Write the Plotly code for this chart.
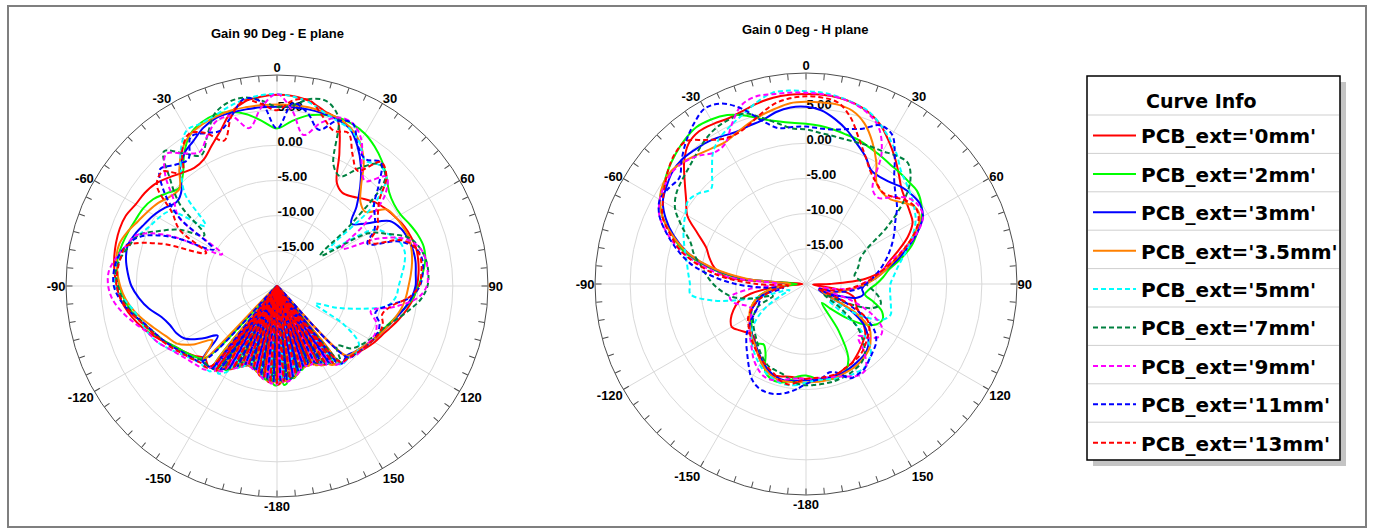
import plotly.graph_objects as go

W, H = 1373, 529

# ---------------- data ----------------
CURVE_NAMES = ["PCB_ext='0mm'", "PCB_ext='2mm'", "PCB_ext='3mm'", "PCB_ext='3.5mm'",
               "PCB_ext='5mm'", "PCB_ext='7mm'", "PCB_ext='9mm'", "PCB_ext='11mm'",
               "PCB_ext='13mm'"]
CURVE_COLORS = ["#FF0000", "#00FF00", "#0000FF", "#FF8000",
                "#00FFFF", "#008040", "#FF00FF", "#0000FF", "#FF0000"]
CURVE_DASH = ["solid", "solid", "solid", "solid",
              "5px,3px", "5px,3px", "5px,3px", "5px,3px", "5px,3px"]

# E plane (phi = 90 deg): angle grid in degrees
THETA_E = [-178, -176, -174, -172, -170, -168, -166, -164, -162, -160,
           -158, -156, -154, -152, -150, -148, -146, -144, -142, -140,
           -135, -130, -125, -120, -115, -110, -105, -100, -95, -90,
           -85, -80, -75, -70, -65, -60, -55, -50, -45, -40,
           -35, -30, -25, -20, -15, -10, -5, 0, 5, 10,
           15, 20, 25, 30, 35, 40, 45, 50, 55, 60,
           65, 70, 75, 80, 85, 90, 95, 100, 105, 110,
           115, 120, 125, 130, 135,
           140, 142, 144, 146, 148, 150, 152, 154, 156, 158,
           160, 162, 164, 166, 168, 170, 172, 174, 176, 178, 180]

E_GAIN_0MM = [-20, -6.3, -6.5, -20, -7.0, -7.3, -20, -7.8, -8.0, -20, -7.8, -7.5, -20, -6.8, -6.4, -20, -5.6, -5.2, -20, -5.0,
              -5.5, -4.6, -3.8, -3.0, -1.8, -0.6, 0.5, 1.5, 2.3, 2.8,
              3.2, 3.5, 3.7, 3.8, 3.7, 3.2, 3.0, 2.6, 1.8, 1.0,
              0.5, 0.8, 2.0, 3.5, 5.5, 6.6, 7.0, 7.2, 7.1, 6.7,
              5.8, 5.1, 1.0, -3.0, -3.8, -3.4, -2.5, -1.6, -1.0, -0.5,
              0.0, 0.3, 0.5, 0.4, 0.2, -0.1, -0.5, -1.2, -2.0, -2.8,
              -3.5, -4.0, -4.6, -5.2, -5.8,
              -20, -6.0, -6.3, -20, -6.9, -7.2, -20, -7.7, -7.9, -20, -8.0, -7.9, -20, -7.4, -7.1, -20, -6.6, -6.4, -20, -6.2, -6.0]
E_GAIN_2MM = [-6.0, -20, -6.6, -6.8, -20, -7.4, -7.7, -20, -8.1, -8.0, -20, -7.6, -7.2, -20, -6.3, -6.0, -20, -5.4, -5.2, -20,
              -5.5, -4.5, -3.8, -3.0, -2.0, -1.0, 0.0, 1.0, 1.8, 2.4,
              2.8, 3.0, 2.8, 2.5, 2.2, 2.0, 1.5, 0.5, -0.3, 0.8,
              3.0, 4.8, 5.6, 5.9, 5.6, 4.8, 3.5, 2.4, 3.5, 4.6,
              5.2, 5.5, 5.4, 5.0, 4.2, 3.2, 2.0, 0.8, 0.3, 0.3,
              0.8, 1.3, 1.6, 1.4, 0.8, 0.1, -0.6, -1.6, -2.6, -3.4,
              -4.0, -4.4, -4.8, -5.2, -5.6,
              -5.8, -20, -6.5, -6.8, -20, -7.4, -7.6, -20, -8.0, -8.2, -20, -7.8, -7.6, -20, -7.0, -6.7, -20, -6.2, -5.9, -20, -5.9]
E_GAIN_3MM = [-6.4, -6.5, -20, -6.9, -7.1, -20, -7.7, -7.9, -20, -8.1, -7.9, -20, -7.3, -7.0, -20, -6.2, -5.8, -20, -5.2, -5.0,
              -5.0, -9.0, -7.0, -5.0, -4.2, -3.8, -3.0, -1.5, -0.3, 0.7,
              1.3, 1.8, 2.0, 1.5, 0.8, 0.2, -0.6, -1.4, -0.8, 1.5,
              3.0, 3.8, 4.8, 5.4, 5.5, 5.5, 5.5, 5.5, 5.5, 5.5,
              5.4, 5.2, 4.6, 2.9, 0.8, -1.6, -4.0, -6.2, -4.5, -1.5,
              -0.6, -0.2, 0.0, 0.0, -0.2, -0.3, -0.8, -1.6, -2.5, -3.2,
              -3.8, -4.4, -5.0, -5.5, -6.0,
              -5.6, -6.2, -20, -6.8, -7.0, -20, -7.6, -7.9, -20, -8.1, -8.0, -20, -7.8, -7.5, -20, -6.9, -6.7, -20, -6.5, -6.4, -20]
E_GAIN_3P5MM = [-6.3, -6.4, -6.6, -20, -7.1, -7.4, -7.6, -20, -7.9, -8.0, -7.8, -20, -7.1, -6.8, -6.5, -20, -5.8, -5.4, -5.2, -20,
                -5.2, -8.0, -5.5, -3.6, -2.8, -1.8, -0.6, 0.6, 1.6, 2.3,
                2.8, 3.2, 3.2, 2.6, 1.8, 1.2, 0.6, -0.2, -0.4, 1.6,
                3.6, 4.8, 5.3, 5.6, 5.8, 5.8, 5.8, 5.8, 5.8, 5.8,
                5.6, 5.4, 4.8, 3.6, 1.5, -1.4, -3.2, -3.6, -1.0, -0.5,
                -0.2, 0.0, -0.2, -0.5, -0.9, -1.3, -1.6, -2.0, -2.6, -3.2,
                -3.8, -4.4, -5.0, -5.5, -6.0,
                -20, -6.1, -6.2, -6.5, -20, -7.0, -7.3, -7.5, -20, -7.8, -7.9, -7.8, -20, -7.3, -7.0, -6.8, -20, -6.5, -6.4, -6.3, -20]
E_GAIN_5MM = [-6.6, -20, -6.8, -7.0, -7.3, -20, -7.9, -8.2, -8.4, -20, -7.8, -7.4, -7.0, -20, -6.0, -5.4, -5.0, -20, -4.6, -4.5,
              -4.5, -4.0, -3.2, -2.2, -1.2, -0.5, 0.0, 0.6, 1.8, 3.0,
              3.0, 2.8, 2.0, 1.0, 0.0, -0.6, -1.5, -6.7, -1.5, 1.2,
              3.8, 5.6, 5.5, 5.8, 6.4, 6.9, 7.2, 7.3, 7.0, 6.5,
              5.6, 5.0, 4.6, 3.5, 1.8, 2.5, 2.0, -2.0, -10.9, -4.0,
              -2.5, -1.5, -1.2, -1.6, -2.2, -2.7, -3.0, -4.0, -7.5, -11.0,
              -14.0, -9.0, -5.8, -5.2, -5.6,
              -5.5, -6.0, -20, -6.8, -7.2, -7.5, -20, -8.0, -8.3, -8.4, -20, -8.2, -8.0, -7.7, -20, -7.1, -6.9, -6.8, -20, -6.6, -6.5]
E_GAIN_7MM = [-20, -6.5, -6.7, -6.9, -20, -7.5, -7.8, -8.0, -20, -8.2, -8.0, -7.7, -20, -6.9, -6.5, -6.1, -20, -5.4, -5.1, -5.0,
              -5.0, -4.2, -3.5, -2.8, -2.0, -1.2, -0.2, 1.0, 2.0, 2.6,
              3.0, 2.6, 1.8, 1.0, -1.5, -4.0, -7.4, -2.0, 1.5, 5.0,
              3.0, 1.5, 3.5, 6.0, 7.0, 7.2, 6.5, 5.5, 5.8, 7.0,
              7.2, 5.5, -1.0, -2.0, 0.5, 2.6, 1.8, -6.0, -12.5, -5.0,
              -2.5, 0.0, 1.0, 1.5, 1.6, 1.4, 0.6, -0.8, -2.2, -3.4,
              -4.2, -4.8, -5.4, -6.2, -8.0,
              -6.0, -20, -6.6, -6.9, -7.2, -20, -7.7, -7.9, -8.1, -20, -8.2, -8.0, -7.8, -20, -7.2, -6.9, -6.7, -20, -6.5, -6.4, -6.3]
E_GAIN_9MM = [-6.1, -6.2, -20, -6.6, -6.9, -7.2, -20, -7.7, -7.9, -7.9, -20, -7.4, -7.1, -6.7, -20, -5.8, -5.4, -5.0, -20, -4.5,
              -4.0, -3.6, -3.0, -2.2, -1.2, -0.5, 0.8, 2.2, 3.4, 4.0,
              4.0, 3.2, 2.2, 1.2, -3.0, -11.0, -3.0, -0.8, 2.5, 4.5,
              3.0, 2.0, 3.5, 5.0, 5.0, 2.8, 5.5, 7.3, 5.0, 1.8,
              4.0, 5.5, 5.5, 4.0, 1.0, -0.5, 2.0, 0.0, -5.0, -9.4,
              -4.0, -0.5, 1.0, 1.5, 1.5, 1.3, 0.0, -3.0, -6.2, -5.0,
              -4.5, -4.6, -4.8, -5.0, -5.5,
              -5.7, -5.9, -6.2, -20, -6.8, -7.1, -7.4, -20, -7.8, -7.9, -7.9, -20, -7.6, -7.3, -7.0, -20, -6.5, -6.3, -6.2, -20, -6.0]
E_GAIN_11MM = [-6.3, -20, -6.6, -20, -7.1, -20, -7.7, -20, -8.1, -20, -7.9, -20, -7.2, -20, -6.4, -20, -5.6, -20, -5.0, -20,
               -4.8, -4.2, -3.6, -2.8, -2.0, -1.2, -0.2, 1.2, 2.4, 3.2,
               3.3, 3.0, 2.2, 0.6, -3.5, -9.6, -3.0, 1.0, 3.5, 2.5,
               2.0, 4.5, 4.0, 3.5, 5.0, 7.0, 6.3, 2.4, 6.1, 5.0,
               3.0, 5.0, 5.5, 3.0, 2.0, 3.0, 0.5, -2.0, -3.0, -4.0,
               -5.8, -1.5, 0.5, 1.0, 0.8, 0.3, -1.0, -4.0, -5.5, -4.5,
               -4.2, -4.4, -4.8, -5.2, -5.6,
               -20, -6.2, -20, -6.8, -20, -7.3, -20, -7.8, -20, -8.1, -20, -8.0, -20, -7.5, -20, -6.9, -20, -6.5, -20, -6.3, -20]
E_GAIN_13MM = [-20, -6.4, -20, -6.9, -20, -7.4, -20, -7.9, -20, -8.1, -20, -7.6, -20, -6.9, -20, -6.1, -20, -5.3, -20, -4.8,
               -4.6, -4.0, -3.4, -2.6, -1.8, -1.0, 0.0, 1.2, 2.2, 2.8,
               2.8, 2.6, 2.1, -2.4, -8.9, -4.0, -1.8, 2.3, 3.0, 1.0,
               3.5, 5.0, 4.0, 2.0, 5.0, 6.8, 6.0, 5.0, 6.5, 6.8,
               5.0, 3.5, 4.0, 1.5, 0.0, 3.0, 2.0, -1.0, -2.5, -3.5,
               -5.5, -1.0, 0.5, 0.8, 0.6, 0.2, -1.2, -3.5, -4.5, -4.0,
               -4.0, -4.4, -4.8, -5.2, -5.6,
               -5.9, -20, -6.4, -20, -7.0, -20, -7.6, -20, -8.0, -20, -8.1, -20, -7.8, -20, -7.2, -20, -6.7, -20, -6.4, -20, -6.1]

# H plane (phi = 0 deg)
THETA_H = [-180, -175, -170, -165, -160, -155, -150, -145, -140, -135,
           -130, -125, -120, -115, -110, -105, -100, -95, -90, -85,
           -80, -75, -70, -65, -60, -55, -50, -45, -40, -35,
           -30, -25, -20, -15, -10, -5, 0, 5, 10, 15,
           20, 25, 30, 35, 40, 45, 50, 55, 60, 65,
           70, 75, 80, 85, 90, 95, 100, 105, 110, 115,
           120, 125, 130, 135, 140, 145, 150, 155, 160, 165, 170, 175]

H_GAIN_0MM = [-6.5, -6.6, -6.6, -6.4, -6.2, -6.5, -7.2, -8.0, -8.8, -9.5,
              -9.2, -8.5, -7.8, -8.2, -9.0, -10.0, -12.0, -16.0, -19.5, -8.7,
              -6.8, -5.8, -4.9, -3.0, -0.5, 0.8, 2.5, 4.5, 6.0, 6.5,
              6.3, 6.0, 6.2, 6.6, 6.9, 7.0, 7.0, 7.0, 6.9, 6.6,
              6.0, 5.0, 3.5, 2.0, 0.5, -0.8, -1.5, -2.0, -2.5, -4.0,
              -6.0, -7.8, -9.0, -11.5, -16.6, -19.0, -15.0, -13.0, -12.5, -12.0,
              -11.0, -10.0, -9.0, -8.5, -8.0, -7.5, -7.0, -6.8, -6.5, -6.3, -6.3, -6.4]
H_GAIN_2MM = [-7.0, -6.8, -6.0, -5.5, -5.6, -6.3, -8.5, -9.5, -9.0, -9.2,
              -10.0, -10.5, -11.0, -11.5, -12.0, -13.0, -14.5, -17.0, -18.7, -10.6,
              -5.7, -2.0, 0.2, 2.5, 4.0, 4.7, 5.5, 6.2, 6.8, 7.2,
              7.0, 6.5, 5.5, 4.3, 3.5, 3.0, 2.8, 2.6, 2.3, 2.0,
              1.8, 1.4, 1.1, 0.8, 0.7, 0.6, 0.6, 0.0, -1.0, -2.5,
              -4.0, -6.0, -8.0, -9.0, -10.0, -11.0, -11.5, -10.0, -8.5, -8.0,
              -8.5, -10.0, -12.5, -15.0, -16.5, -12.0, -8.0, -6.5, -6.0, -6.0, -6.2, -6.6]
H_GAIN_3MM = [-6.3, -6.2, -6.0, -6.0, -6.3, -6.8, -7.5, -8.2, -8.8, -9.3,
              -9.8, -10.3, -10.8, -11.5, -12.5, -13.5, -15.0, -17.0, -17.5, -11.0,
              -6.0, -2.5, 0.0, 2.0, 3.5, 4.2, 4.8, 5.0, 4.8, 4.6,
              4.2, 3.8, 3.9, 4.1, 4.8, 5.2, 5.2, 4.8, 3.8, 2.6,
              1.2, 0.0, -1.4, -1.5, -1.2, -0.6, -0.3, -0.2, -0.8, -2.5,
              -4.5, -6.5, -8.5, -10.0, -11.5, -12.0, -11.7, -12.5, -15.0, -18.0,
              -13.0, -10.0, -8.5, -7.5, -7.0, -6.8, -6.6, -6.4, -6.3, -6.3, -6.3, -6.3]
H_GAIN_3P5MM = [-6.0, -6.0, -5.9, -5.8, -6.0, -6.5, -7.2, -8.0, -8.7, -9.2,
                -9.7, -10.2, -10.7, -11.2, -12.0, -13.0, -14.5, -16.5, -17.8, -11.5,
                -6.3, -2.5, 0.2, 2.5, 4.0, 4.8, 5.0, 4.6, 4.0, 3.5,
                3.2, 3.6, 4.2, 4.8, 5.3, 5.8, 5.9, 5.9, 5.9, 5.5,
                4.3, 2.3, 0.0, -2.5, -3.1, -3.0, -2.0, -1.0, -1.3, -3.0,
                -5.0, -7.0, -8.5, -10.0, -11.5, -13.0, -14.5, -15.5, -16.5, -17.5,
                -12.0, -9.0, -8.0, -7.2, -6.8, -6.5, -6.3, -6.2, -6.1, -6.0, -6.0, -6.0]
H_GAIN_5MM = [-6.0, -5.6, -5.4, -5.5, -5.8, -6.2, -6.8, -7.5, -8.2, -9.0,
              -10.0, -11.5, -13.5, -16.0, -17.5, -12.0, -6.5, -3.5, -3.5, -3.2,
              -2.8, -2.2, -1.5, -0.8, -0.2, 0.5, 0.0, -0.9, 0.8, 3.0,
              4.2, 5.0, 5.8, 6.8, 7.6, 7.6, 7.4, 7.3, 7.0, 6.6,
              6.1, 5.0, 3.8, 2.5, 1.0, 0.2, -0.5, -1.2, -2.0, -3.2,
              -4.5, -5.8, -6.8, -7.5, -8.0, -8.0, -7.8, -7.5, -7.2, -8.0,
              -11.0, -16.0, -10.0, -7.0, -6.0, -5.5, -5.5, -5.6, -5.8, -6.0, -6.2, -6.2]
H_GAIN_7MM = [-5.6, -5.8, -6.3, -6.8, -7.0, -7.2, -7.8, -8.5, -9.2, -9.8,
              -10.3, -10.8, -11.5, -12.5, -15.0, -12.0, -9.4, -8.0, -6.8, -5.8,
              -4.8, -3.5, -2.5, -0.5, 1.5, 2.5, 3.0, 3.5, 4.2, 5.0,
              5.6, 5.8, 5.8, 4.5, 3.2, 2.2, 2.0, 1.6, 1.4, 1.3,
              1.4, 1.6, 1.8, 2.3, 2.5, 1.0, -2.0, -6.0, -10.0, -11.5,
              -12.0, -12.5, -13.0, -12.5, -11.5, -10.5, -9.5, -9.0, -10.0, -13.5,
              -17.0, -14.0, -10.5, -8.5, -7.0, -6.3, -6.0, -5.8, -5.7, -5.6, -5.6, -5.6]
H_GAIN_9MM = [-6.5, -6.5, -6.3, -5.8, -5.5, -5.6, -6.2, -7.0, -8.0, -8.8,
              -9.5, -10.2, -11.0, -11.5, -11.0, -9.5, -9.0, -12.0, -16.0, -9.0,
              -5.0, -1.5, 1.0, 3.0, 4.0, 4.5, 4.8, 4.5, 3.8, 2.8,
              3.0, 5.0, 7.0, 7.6, 7.4, 7.3, 7.2, 7.1, 6.9, 6.5,
              5.8, 4.5, 1.5, -3.5, -4.0, -2.5, -1.0, -0.5, -0.8, -2.5,
              -5.0, -7.5, -9.0, -10.5, -12.0, -13.0, -16.0, -18.0, -13.0, -9.5,
              -7.5, -7.1, -8.0, -9.5, -7.0, -5.2, -5.0, -5.5, -6.0, -6.3, -6.5, -6.5]
H_GAIN_11MM = [-5.8, -5.0, -4.3, -3.8, -3.6, -3.8, -4.5, -5.8, -7.0, -8.0,
               -9.0, -10.3, -11.5, -12.5, -13.0, -13.5, -16.7, -14.0, -10.0, -6.5,
               -3.3, -1.0, 1.1, 3.0, 4.0, 3.8, 3.5, 5.0, 6.5, 7.8,
               8.8, 8.3, 6.5, 4.0, 2.5, 2.4, 2.4, 2.2, 2.3, 2.8,
               3.5, 4.9, 4.5, 2.0, -0.5, -2.0, -3.1, -4.5, -5.5, -6.5,
               -7.5, -8.5, -9.5, -10.5, -11.5, -12.5, -14.0, -16.0, -18.0, -14.0,
               -10.0, -8.0, -7.0, -6.5, -6.0, -5.4, -5.2, -5.2, -6.5, -7.0, -6.5, -6.2]
H_GAIN_13MM = [-6.5, -6.0, -5.5, -5.8, -6.5, -7.0, -7.5, -8.0, -8.5, -9.0,
               -9.5, -10.0, -10.5, -11.5, -12.5, -14.0, -15.5, -17.5, -13.0, -8.0,
               -4.5, -1.5, 0.5, 2.5, 3.5, 4.5, 5.5, 6.3, 6.5, 5.0,
               3.8, 3.5, 4.0, 5.0, 6.0, 6.5, 6.7, 6.6, 6.2, 4.5,
               2.0, 0.0, -1.6, -2.5, -3.0, -2.5, -1.5, -1.0, -1.5, -3.0,
               -5.0, -7.0, -9.0, -10.5, -12.0, -13.5, -15.0, -16.5, -18.0, -13.0,
               -10.0, -9.0, -8.5, -8.0, -7.5, -7.2, -7.0, -6.8, -6.5, -6.5, -6.5, -6.6]

E_GAINS = [E_GAIN_0MM, E_GAIN_2MM, E_GAIN_3MM, E_GAIN_3P5MM, E_GAIN_5MM,
           E_GAIN_7MM, E_GAIN_9MM, E_GAIN_11MM, E_GAIN_13MM]
H_GAINS = [H_GAIN_0MM, H_GAIN_2MM, H_GAIN_3MM, H_GAIN_3P5MM, H_GAIN_5MM,
           H_GAIN_7MM, H_GAIN_9MM, H_GAIN_11MM, H_GAIN_13MM]

ANGLE_TICKS = [0, 30, 60, 90, 120, 150, 180, 210, 240, 270, 300, 330]
ANGLE_LABELS = ["0", "30", "60", "90", "120", "150", "-180", "-150", "-120", "-90", "-60", "-30"]
MINOR_ANGLE_TICKS = list(range(0, 360, 5))
RADIAL_RANGE = [-20, 10]
RADIAL_TICKS = [-15, -10, -5, 0, 5]
RADIAL_LABELS = ["-15.00", "-10.00", "-5.00", "0.00", "5.00"]
RADIAL_LABEL_LIFT = 0.55  # labels sit slightly above their grid circle

TITLE_E = "Gain 90 Deg - E plane"
TITLE_H = "Gain 0 Deg - H plane"
LEGEND_TITLE = "Curve Info"

for g in E_GAINS:
    assert len(g) == len(THETA_E), len(g)
for g in H_GAINS:
    assert len(g) == len(THETA_H), len(g)

# ---------------- figure ----------------
def px(x):
    return x / W

def py(y):
    return 1 - y / H

fig = go.Figure()

ARIAL_B = dict(family="Liberation Sans, Arial, sans-serif", size=13, color="black", weight="bold")

# grid-only base subplots (need a dummy trace to exist)
for sp in ["polar", "polar3"]:
    fig.add_trace(go.Scatterpolar(r=[RADIAL_RANGE[0]], theta=[0], mode="markers",
                                  marker=dict(opacity=0), subplot=sp, showlegend=False,
                                  hoverinfo="skip"))

for i, name in enumerate(CURVE_NAMES):
    for sp, theta, gains, show in [("polar2", THETA_E, E_GAINS, True),
                                   ("polar4", THETA_H, H_GAINS, False)]:
        th = list(theta) + [theta[0]]
        rr = list(gains[i]) + [gains[i][0]]
        fig.add_trace(go.Scatterpolar(
            r=rr, theta=th, mode="lines", name=name, subplot=sp,
            legendgroup=name, showlegend=show,
            line=dict(color=CURVE_COLORS[i], width=2, dash=CURVE_DASH[i], shape="spline"),
        ))

dom_E = dict(x=[px(66), px(488)], y=[py(497), py(75)])
dom_H = dict(x=[px(595), px(1017)], y=[py(495), py(73)])

def base_polar(dom):
    return dict(
        domain=dom, bgcolor="white",
        angularaxis=dict(rotation=90, direction="clockwise", tickmode="array",
                         tickvals=ANGLE_TICKS, ticktext=ANGLE_LABELS, ticks="",
                         showline=False, showgrid=True, gridcolor="#d9d9d9", gridwidth=1,
                         tickfont=ARIAL_B),
        radialaxis=dict(range=RADIAL_RANGE, tickmode="array", tickvals=RADIAL_TICKS,
                        showticklabels=False, ticks="", showline=False,
                        showgrid=True, gridcolor="#d9d9d9", gridwidth=1),
    )

def top_polar(dom):
    return dict(
        domain=dom, bgcolor="rgba(0,0,0,0)",
        angularaxis=dict(rotation=90, direction="clockwise", tickmode="array",
                         tickvals=MINOR_ANGLE_TICKS, showticklabels=False,
                         ticks="inside", ticklen=6, tickcolor="#4d4d4d", tickwidth=1,
                         showline=True, linecolor="#4d4d4d", linewidth=1, showgrid=False),
        radialaxis=dict(range=RADIAL_RANGE, tickmode="array",
                        tickvals=[v + RADIAL_LABEL_LIFT for v in RADIAL_TICKS],
                        ticktext=RADIAL_LABELS, ticks="", showline=False, showgrid=False,
                        angle=90, tickangle=90, tickfont=ARIAL_B, layer="below traces"),
    )

shapes = [
    # outer frame
    dict(type="rect", xref="paper", yref="paper", x0=px(8), x1=px(1366), y0=py(527), y1=py(6),
         line=dict(color="#7f7f7f", width=2), fillcolor="rgba(0,0,0,0)", layer="below"),
    # legend shadow and box
    dict(type="rect", xref="paper", yref="paper", x0=px(1093), x1=px(1346), y0=py(466), y1=py(82),
         line=dict(width=0), fillcolor="#c4c4c4", layer="below"),
    dict(type="rect", xref="paper", yref="paper", x0=px(1087), x1=px(1340), y0=py(460), y1=py(76),
         line=dict(color="black", width=1.5), fillcolor="white", layer="below"),
]
for k in range(9):
    yy = 115 + 38.4 * k
    shapes.append(dict(type="line", xref="paper", yref="paper", x0=px(1088), x1=px(1339),
                       y0=py(yy), y1=py(yy), line=dict(color="#cfcfcf", width=1), layer="below"))

TITLE_FONT = dict(family="Liberation Sans, Arial", size=13, color="black", weight="bold")
annotations = [
    dict(text=TITLE_E, x=px(277), y=py(33), xref="paper", yref="paper", showarrow=False,
         xanchor="center", yanchor="middle", font=TITLE_FONT),
    dict(text=TITLE_H, x=px(805), y=py(30), xref="paper", yref="paper", showarrow=False,
         xanchor="center", yanchor="middle", font=TITLE_FONT),
    dict(text=LEGEND_TITLE, x=px(1201), y=py(101), xref="paper", yref="paper", showarrow=False,
         xanchor="center", yanchor="middle",
         font=dict(family="DejaVu Sans", size=19, color="black", weight="bold")),
]

fig.update_layout(
    width=W, height=H, margin=dict(l=0, r=0, t=0, b=0),
    paper_bgcolor="white",
    polar=base_polar(dom_E), polar2=top_polar(dom_E),
    polar3=base_polar(dom_H), polar4=top_polar(dom_H),
    shapes=shapes, annotations=annotations,
    showlegend=True,
    legend=dict(x=px(1088), y=py(116), xanchor="left", yanchor="top",
                bgcolor="rgba(0,0,0,0)", borderwidth=0,
                font=dict(family="DejaVu Sans", size=20, color="black", weight="bold"),
                tracegroupgap=9.4, itemwidth=43, traceorder="grouped"),
)

fig.write_html("out.html")
